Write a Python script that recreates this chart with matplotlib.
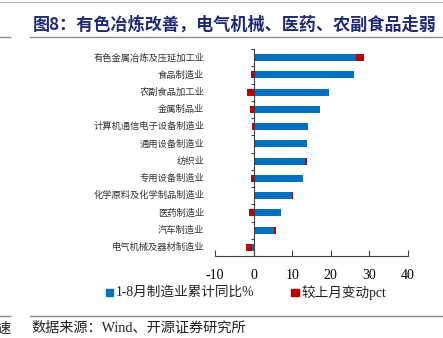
import matplotlib

matplotlib.use("Agg")
import matplotlib.pyplot as plt
import numpy as np
from matplotlib.patches import Rectangle
from matplotlib.lines import Line2D

plt.rcParams["font.family"] = ["Noto Sans CJK SC", "DejaVu Sans"]

industries = [
    "有色金属冶炼及压延加工业",
    "食品制造业",
    "农副食品加工业",
    "金属制品业",
    "计算机通信电子设备制造业",
    "通用设备制造业",
    "纺织业",
    "专用设备制造业",
    "化学原料及化学制品制造业",
    "医药制造业",
    "汽车制造业",
    "电气机械及器材制造业",
]
ytd_yoy = [26.4, 26.1, 19.6, 17.3, 14.2, 13.8, 13.4, 12.8, 10.0, 7.2, 5.4, -0.3]
mom_change = [2.3, -0.8, -1.6, -0.9, -0.3, 0.0, 0.4, -0.6, 0.2, -1.3, 0.5, -1.7]
xticks = [-10, 0, 10, 20, 30, 40]

BLUE = "#0070C0"
RED = "#C00000"
NAVY = "#1F2A78"
GREY = "#8C8C8C"
MIXED = ["Liberation Serif", "Noto Sans CJK SC"]

fig = plt.figure(figsize=(4.43, 3.38), dpi=100, facecolor="white")

# header and footer rules
fig.add_artist(Line2D([0, 1], [0.994, 0.994], color="#B0B0B0", lw=0.8))
fig.add_artist(Line2D([0.068, 1], [0.89, 0.89], color=GREY, lw=1.0))
fig.add_artist(Line2D([0, 0.023], [0.89, 0.89], color=GREY, lw=1.0))
fig.add_artist(Line2D([0.068, 1], [0.065, 0.065], color=GREY, lw=1.0))
fig.add_artist(Line2D([0, 0.023], [0.065, 0.065], color=GREY, lw=1.0))

fig.text(0.074, 0.928, "图8：有色冶炼改善，电气机械、医药、农副食品走弱",
         color=NAVY, fontsize=12.3, weight="bold", va="center", ha="left")
fig.text(0.072, 0.028, "数据来源：Wind、开源证券研究所",
         fontsize=10.2, va="center", ha="left", color="#222222", family=MIXED)
fig.text(-0.008, 0.028, "速", fontsize=10.2, va="center", ha="left", color="#222222")

ax = fig.add_axes([0.4853, 0.2426, 0.4357, 0.6124])
y = np.arange(len(industries))
blue = np.array(ytd_yoy)
red = np.array(mom_change)
ax.barh(y, blue, height=0.4, color=BLUE, zorder=2)
red_base = np.where(red >= 0, np.maximum(blue, 0), np.minimum(blue, 0))
ax.barh(y, red, left=red_base, height=0.4, color=RED, zorder=2)

ax.set_xlim(-10, 40)
ax.set_ylim(len(industries) - 0.5, -0.5)
ax.set_xticks(xticks)
ax.set_xticklabels([str(t) for t in xticks], family="Liberation Serif", fontsize=10)
ax.tick_params(axis="x", direction="in", length=4, color="#404040", pad=9)

for s in ["top", "right"]:
    ax.spines[s].set_visible(False)
ax.spines["left"].set_position(("data", 0))
ax.spines["left"].set_color("#404040")
ax.spines["bottom"].set_color("#404040")
ax.set_yticks(np.arange(len(industries) + 1) - 0.5)
ax.set_yticklabels([])
ax.tick_params(axis="y", direction="out", length=2, color="#404040")

for i, name in enumerate(industries):
    ax.text(-0.055, i, name, transform=ax.get_yaxis_transform(),
            ha="right", va="center", fontsize=6.7, color="#333333")

# legend
fig.add_artist(Rectangle((0.240, 0.124), 0.016, 0.021, color=BLUE, transform=fig.transFigure))
fig.text(0.262, 0.134, "1-8月制造业累计同比%", fontsize=9.8, va="center",
         color="#222222", family=MIXED)
fig.add_artist(Rectangle((0.658, 0.124), 0.016, 0.021, color=RED, transform=fig.transFigure))
fig.text(0.680, 0.134, "较上月变动pct", fontsize=9.8, va="center",
         color="#222222", family=MIXED)

fig.savefig("out.png", dpi=100, facecolor="white")
